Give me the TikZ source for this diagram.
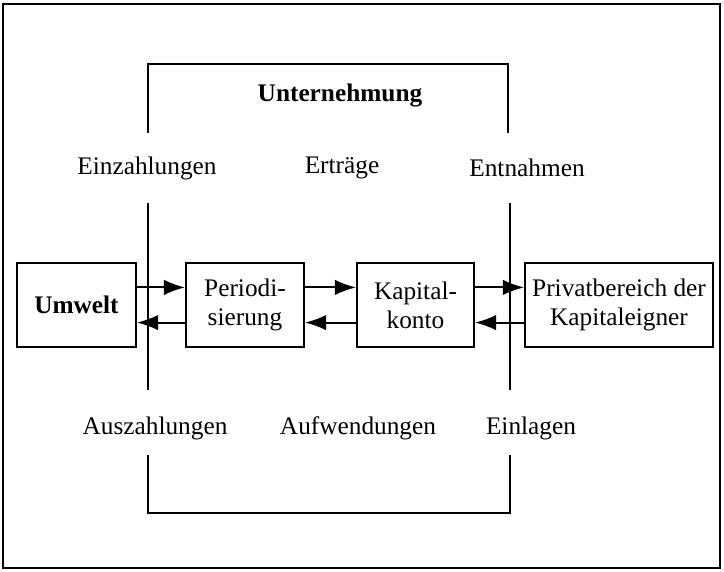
\documentclass[tikz,border=0pt]{standalone}
\usepackage{fontspec}
\setmainfont{Liberation Serif}
\usetikzlibrary{arrows.meta}
\begin{document}
\begin{tikzpicture}[x=0.025cm,y=-0.025cm,
    ln/.style={line width=1.4pt},
    box/.style={draw,ln,minimum height=2.1cm,inner sep=0pt,align=center,font=\fontsize{18}{20.5}\selectfont},
    lbl/.style={font=\fontsize{18}{20.5}\selectfont},
    arr/.style={ln,-{Latex[length=15pt,width=11pt]}}]
    \useasboundingbox (0,0) rectangle (724,572);
    \draw[ln] (3,4) rectangle (720,568);

    % Bereichsgrenzen
    \coordinate (OL) at (148,133);
    \coordinate (OR) at (508,133);
    \coordinate (UL) at (148,455);
    \coordinate (UR) at (510,455);
    \coordinate (ML1) at (148,203);
    \coordinate (ML2) at (148,390);
    \coordinate (MR1) at (510,203);
    \coordinate (MR2) at (510,390);

    \draw[ln] (OL) -- (148,64) -- (508,64) -- (OR);
    \draw[ln] (UL) -- (148,513) -- (510,513) -- (UR);
    \draw[ln] (ML1) -- (ML2);
    \draw[ln] (MR1) -- (MR2);

    \node[lbl] (unt) at (340,96) {\textbf{Unternehmung}};

    \node[lbl] (ein) at (147,168) {Einzahlungen};
    \node[lbl] (ert) at (342,168) {Erträge};
    \node[lbl] (ent) at (527,168) {Entnahmen};
    \node[lbl] (aus) at (155,428) {Auszahlungen};
    \node[lbl] (auf) at (358,428) {Aufwendungen};
    \node[lbl] (eil) at (531,428) {Einlagen};

    % Kästen
    \node[box,minimum width=2.975cm] (umw) at (76.5,305) {\textbf{Umwelt}};
    \node[box,minimum width=2.95cm] (per) at (245,305) {Periodi-\\sierung};
    \node[box,minimum width=2.925cm] (kap) at (415.5,305) {Kapital-\\konto};
    \node[box,minimum width=4.7cm] (pri) at (619,305) {Privatbereich der\\Kapitaleigner};

    \draw[arr] ([yshift=12.5pt]umw.east) -- ([yshift=12.5pt]per.west);
    \draw[arr] ([yshift=-12.5pt]per.west) -- ([yshift=-12.5pt]umw.east);
    \draw[arr] ([yshift=12.5pt]per.east) -- ([yshift=12.5pt]kap.west);
    \draw[arr] ([yshift=-12.5pt]kap.west) -- ([yshift=-12.5pt]per.east);
    \draw[arr] ([yshift=12.5pt]kap.east) -- ([yshift=12.5pt]pri.west);
    \draw[arr] ([yshift=-12.5pt]pri.west) -- ([yshift=-12.5pt]kap.east);
\end{tikzpicture}
\end{document}
